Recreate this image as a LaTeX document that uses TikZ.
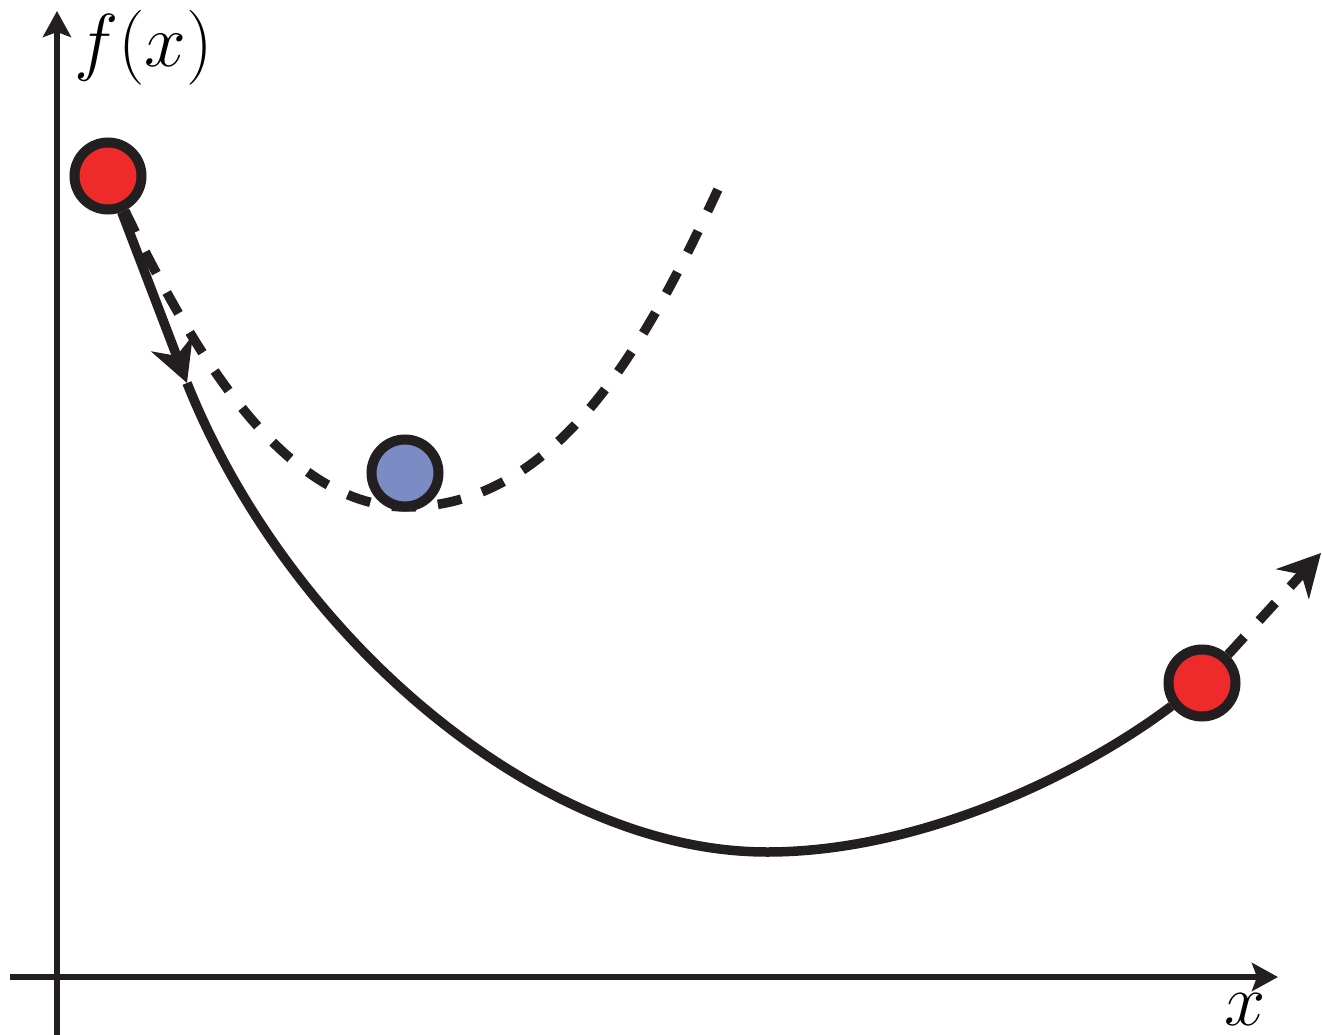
\RequirePackage{fix-cm}
\documentclass[tikz,border=0pt]{standalone}
\usetikzlibrary{arrows.meta,backgrounds}
\definecolor{ink}{HTML}{231F20}
\definecolor{ballred}{HTML}{EE2A2A}
\definecolor{ballblue}{HTML}{7B8BC4}
\begin{document}
\begin{tikzpicture}[x=1pt,y=-1pt,
  axis/.style={draw=ink,line width=6pt,-{Stealth[length=26pt,width=28pt,inset=5pt]}},
  curve/.style={draw=ink,line width=9.5pt},
  dashcurve/.style={draw=ink,line width=9.5pt,dash pattern=on 24pt off 22pt},
  ball/.style={circle,draw=ink,line width=10pt,minimum size=67pt,inner sep=0pt},
  midtip/.style={-{Stealth[length=42pt,width=44pt,inset=13pt]}},
  bigtip/.style={-{Stealth[length=42pt,width=44pt,inset=13pt]}}
]
\useasboundingbox (0,0) rectangle (1322,1035);
% points
\node[ball,fill=ballred]  (r1) at (108,176) {};
\node[ball,fill=ballblue] (b1) at (405,473) {};
\node[ball,fill=ballred]  (r2) at (1202,683) {};
\coordinate (m1)   at (187,383);
\coordinate (bot)  at (767,852);
\coordinate (dmin) at (405,507);
\coordinate (dend) at (720,185);
\coordinate (tipc) at (1321,553);
\coordinate (yb) at (57,1035);
\coordinate (yt) at (57,11);
\coordinate (xl) at (10,977);
\coordinate (xr) at (1278,977);
% labels
\node[anchor=base west,inner sep=0pt,font=\fontsize{75}{90}\selectfont] (flab) at (74,67) {$f(x)$};
\node[anchor=base,inner sep=0pt,font=\fontsize{74}{88}\selectfont] (xlab) at (1245,1025) {$x$};
\begin{pgfonlayer}{background}
\draw[axis] (yb) -- (yt);
\draw[axis] (xl) -- (xr);
\draw[curve,midtip] (r1) -- (m1);
\draw[curve] (m1) .. controls (289,638) and (540,852) .. (bot)
                  .. controls (920,852) and (1080,775) .. (r2);
\draw[dashcurve] (r1) .. controls (190,345) and (280,505) .. (dmin)
                      .. controls (560,507) and (649,338) .. (dend);
\draw[dashcurve,bigtip] (r2) -- (tipc);
\end{pgfonlayer}
\end{tikzpicture}
\end{document}
